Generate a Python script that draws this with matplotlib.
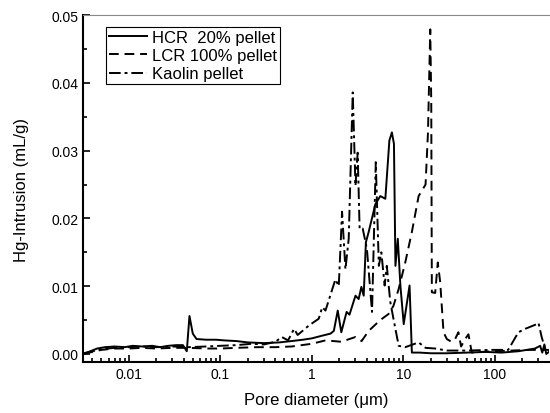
import matplotlib
matplotlib.use("Agg")
import matplotlib.pyplot as plt
from matplotlib.ticker import FixedLocator, NullFormatter, MultipleLocator, FuncFormatter

plt.rcParams['font.family'] = ['Liberation Sans', 'DejaVu Sans']

# pore diameter (um) and Hg intrusion (mL/g)
hcr_d = [0.0032, 0.0038, 0.0045, 0.0055, 0.007, 0.009, 0.011, 0.014, 0.018, 0.022,
         0.027, 0.033, 0.039, 0.043, 0.046, 0.050, 0.055, 0.07, 0.09, 0.11,
         0.15, 0.2, 0.3, 0.44, 0.6, 0.8, 1.0, 1.3, 1.6, 1.74, 1.92, 2.1,
         2.4, 2.58, 3.0, 3.25, 3.48, 3.69, 3.9, 4.18, 4.95, 5.6, 6.36, 7.04,
         7.5, 7.9, 8.2, 8.7, 9.3, 10.1, 11.7, 12.4, 15, 20, 30, 50,
         80, 118, 181, 275, 313, 330, 348, 365, 390]
hcr_v = [0.0000, 0.0004, 0.0008, 0.0010, 0.0011, 0.0010, 0.0012, 0.0011, 0.0012, 0.0010,
         0.0012, 0.0013, 0.0013, 0.0004, 0.0056, 0.0030, 0.0022, 0.0021, 0.0021, 0.0020,
         0.0019, 0.0017, 0.0016, 0.0017, 0.0019, 0.0021, 0.0023, 0.0027, 0.0030, 0.0034, 0.0064, 0.0032,
         0.0062, 0.0058, 0.0086, 0.0081, 0.0099, 0.0086, 0.0165, 0.0180, 0.0221, 0.0233, 0.0229, 0.0315,
         0.0327, 0.0310, 0.0130, 0.0170, 0.0100, 0.0044, 0.0101, 0.0002, 0.0002, 0.0001, 0.0001, 0.0002,
         0.0003, 0.0002, 0.0004, 0.0008, 0.0012, 0.0002, 0.0014, 0.0000, 0.0003]

lcr_d = [0.0032, 0.004, 0.005, 0.007, 0.01, 0.014, 0.02, 0.03, 0.045, 0.07,
         0.1, 0.15, 0.25, 0.4, 0.6, 1.0, 1.41, 2.1, 3.0, 3.5,
         4.18, 5.6, 6.9, 7.8, 8.9, 10.5, 12.4, 14.7, 17.5, 18.6,
         19.7, 20.2, 20.5, 22.3, 23.8, 25.3, 27.5, 29.9, 33.5, 36.8,
         40, 42.8, 47.4, 51.5, 56, 70, 100, 150, 250, 390]
lcr_v = [0.0000, 0.0003, 0.0006, 0.0008, 0.0008, 0.0009, 0.0008, 0.0009, 0.0009, 0.0008,
         0.0008, 0.0009, 0.0010, 0.0010, 0.0011, 0.0015, 0.0020, 0.0018, 0.0025, 0.0019,
         0.0034, 0.0050, 0.0059, 0.0071, 0.0096, 0.0135, 0.0180, 0.0233, 0.0250, 0.0327,
         0.0479, 0.0370, 0.0091, 0.0090, 0.0135, 0.0106, 0.0032, 0.0022, 0.0018, 0.0022,
         0.0032, 0.0011, 0.0022, 0.0029, 0.0002, 0.0003, 0.0004, 0.0005, 0.0006, 0.0006]

kao_d = [0.0032, 0.004, 0.005, 0.007, 0.01, 0.014, 0.02, 0.03, 0.045, 0.07,
         0.1, 0.15, 0.22, 0.3, 0.4, 0.47, 0.55, 0.64, 0.7, 0.93,
         1.19, 1.3, 1.41, 1.81, 1.97, 2.14, 2.33, 2.53, 2.8, 3.0,
         3.17, 3.33, 3.6, 4.0, 4.55, 5.0, 5.4, 5.75, 6.25, 6.6,
         7.2, 7.8, 8.9, 10.5, 14.7, 17.5, 22.3, 30, 50, 92,
         140, 181, 214, 288, 300, 325, 350, 390]
kao_v = [0.0001, 0.0004, 0.0007, 0.0009, 0.0010, 0.0011, 0.0010, 0.0011, 0.0010, 0.0011,
         0.0012, 0.0013, 0.0015, 0.0014, 0.0018, 0.0025, 0.0020, 0.0037, 0.0028, 0.0042,
         0.0052, 0.0069, 0.0064, 0.0110, 0.0100, 0.0210, 0.0125, 0.0170, 0.0386, 0.0248,
         0.0297, 0.0184, 0.0185, 0.0155, 0.0062, 0.0283, 0.0130, 0.0150, 0.0101, 0.0130,
         0.0077, 0.0052, 0.0012, 0.0010, 0.0017, 0.0009, 0.0008, 0.0005, 0.0005, 0.0006,
         0.0006, 0.0032, 0.0037, 0.0044, 0.0046, 0.0025, 0.0010, 0.0005]

fig = plt.figure(figsize=(5.5, 4.14), dpi=100)
ax = fig.add_axes([0.151, 0.123, 0.847, 0.838])

ax.plot(hcr_d, hcr_v, color='black', lw=1.4, ls='-', label='HCR  20% pellet')
ax.plot(lcr_d, lcr_v, color='black', lw=1.4, ls=(0, (5, 3)), label='LCR 100% pellet')
ax.plot(kao_d, kao_v, color='black', lw=1.4, ls=(0, (6, 2, 1.5, 2)), label='Kaolin pellet')

ax.set_xscale('log')
ax.set_xlim(0.00316, 390)
ax.set_ylim(-0.0012, 0.05)

ax.xaxis.set_major_locator(FixedLocator([0.01, 0.1, 1, 10, 100]))
ax.xaxis.set_major_formatter(FuncFormatter(lambda v, p: '%g' % v))
minors = [m * 10.0 ** e for e in range(-3, 3) for m in range(2, 10)]
ax.xaxis.set_minor_locator(FixedLocator(minors))
ax.xaxis.set_minor_formatter(NullFormatter())
ax.yaxis.set_major_locator(MultipleLocator(0.01))
ax.yaxis.set_minor_locator(MultipleLocator(0.005))
ax.yaxis.set_major_formatter(FuncFormatter(lambda v, p: '%.2f' % v))

ax.tick_params(which='both', direction='in', top=False, right=False, labelsize=10, width=1.2)
ax.tick_params(which='major', length=5)
ax.tick_params(which='minor', length=3)

ax.spines['right'].set_visible(False)
ax.spines['top'].set_color('#888888')
ax.spines['left'].set_linewidth(1.5)
ax.spines['bottom'].set_linewidth(1.5)

ax.set_xlabel('Pore diameter (\u03bcm)', fontsize=12, labelpad=8)
ax.set_ylabel('Hg-Intrusion (mL/g)', fontsize=12, labelpad=16)

leg = ax.legend(loc='upper left', bbox_to_anchor=(0.05, 0.965), fontsize=12,
                frameon=True, fancybox=False, framealpha=1, edgecolor='black',
                handlelength=2.3, handletextpad=0.3, borderpad=0.15, labelspacing=0.2,
                borderaxespad=0)
leg.get_frame().set_linewidth(0.8)

fig.savefig('out.png', dpi=100)
